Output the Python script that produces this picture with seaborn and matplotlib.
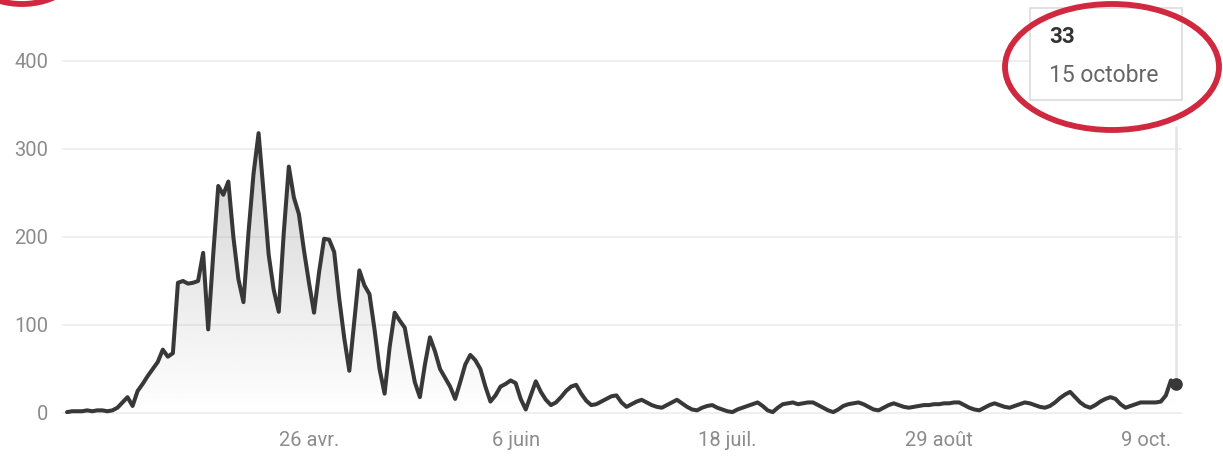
import numpy as np
import pandas as pd
import matplotlib
matplotlib.use("Agg")
import matplotlib.pyplot as plt
import matplotlib.dates as mdates
from matplotlib.patches import Ellipse, Rectangle
import seaborn as sns

# daily values, first day = 9 March
start_date = "2020-03-09"
daily = [
    1, 2, 2, 2, 3, 2, 3, 3, 2, 3,
    6, 12, 18, 8, 25, 33, 42, 50, 58, 72,
    64, 68, 148, 150, 147, 148, 150, 182, 95, 180,
    258, 248, 263, 200, 152, 126, 205, 272, 318, 250,
    180, 140, 115, 205, 280, 245, 226, 185, 148, 114,
    160, 198, 197, 183, 130, 85, 48, 105, 162, 145,
    135, 95, 50, 22, 75, 114, 105, 97, 65, 35,
    18, 55, 86, 70, 50, 40, 30, 16, 35, 55,
    66, 60, 50, 30, 13, 20, 30, 33, 37, 34,
    16, 4, 20, 36, 24, 15, 9, 12, 18, 25,
    30, 32, 22, 14, 9, 10, 13, 16, 19, 20,
    12, 7, 10, 13, 15, 12, 9, 7, 6, 9,
    12, 15, 11, 7, 4, 3, 6, 8, 9, 6,
    4, 2, 1, 4, 6, 8, 10, 12, 8, 3,
    1, 6, 10, 11, 12, 10, 11, 12, 12, 9,
    6, 3, 1, 4, 8, 10, 11, 12, 10, 7,
    4, 3, 6, 9, 11, 9, 7, 6, 7, 8,
    9, 9, 10, 10, 11, 11, 12, 12, 9, 6,
    4, 3, 6, 9, 11, 9, 7, 6, 8, 10,
    12, 11, 9, 7, 6, 8, 12, 17, 21, 24,
    18, 12, 8, 6, 9, 13, 16, 18, 16, 10,
    6, 8, 10, 12, 12, 12, 12, 13, 20, 37,
    33,
]
tick_dates = ["2020-04-26", "2020-06-06", "2020-07-18", "2020-08-29", "2020-10-09"]
tick_labels = ["26 avr.", "6 juin", "18 juil.", "29 août", "9 oct."]
y_ticks = [0, 100, 200, 300, 400]
tip_value = "33"
tip_label = "15 octobre"

df = pd.DataFrame({
    "date": pd.date_range(start_date, periods=len(daily), freq="D"),
    "value": daily,
})

sns.set_theme(style="white")
plt.rcParams["font.family"] = ["Roboto", "DejaVu Sans"]

W, H = 1223, 457
fig = plt.figure(figsize=(W / 100, H / 100), dpi=100)
ax = fig.add_axes([62 / W, (H - 420) / H, (1182 - 62) / W, 410 / H])

line_col = "#383838"
sns.lineplot(data=df, x="date", y="value", ax=ax, color=line_col,
             linewidth=2.9, zorder=4)

# grey gradient under the curve
xnum = mdates.date2num(df["date"])
poly = ax.fill_between(df["date"], df["value"], 0, facecolor="none",
                       edgecolor="none")
grad = np.zeros((256, 1, 4))
grad[:, 0, :3] = 0.6
grad[:, 0, 3] = np.linspace(0.0, 0.45, 256)
im = ax.imshow(grad, extent=[xnum[0], xnum[-1], 0, df["value"].max()],
               origin="lower", aspect="auto", zorder=2)
im.set_clip_path(poly.get_paths()[0], transform=ax.transData)

# hover marker on the last day
last = df.iloc[-1]
ax.plot([last["date"], last["date"]], [last["value"], 325], color="#e4e4e4",
        linewidth=1.8, zorder=3)
ax.scatter([last["date"]], [last["value"]], s=65, color=line_col, zorder=5)

t0 = pd.Timestamp(start_date)
ax.set_xlim(t0 - pd.Timedelta(days=1.0), t0 + pd.Timedelta(days=221.2))
ax.set_ylim((413 - 420) / 0.88, (413 - 10) / 0.88)
ax.set_xticks(pd.to_datetime(tick_dates))
ax.set_xticklabels(tick_labels)
ax.set_yticks(y_ticks)
ax.tick_params(axis="both", length=0, labelsize=14.5, labelcolor="#8c8c8c")
ax.tick_params(axis="x", pad=8)
ax.tick_params(axis="y", pad=10)
ax.set_xlabel("")
ax.set_ylabel("")
ax.grid(axis="y", color="#ececec", linewidth=1.2)
ax.grid(axis="x", visible=False)
sns.despine(ax=ax, left=True, bottom=True)

# overlay in pixel coordinates for the tooltip and the red circles
ov = fig.add_axes([0, 0, 1, 1], zorder=10)
ov.set_xlim(0, W)
ov.set_ylim(H, 0)
ov.axis("off")
ov.add_patch(Rectangle((1030, 8), 152, 92, facecolor="white",
                       edgecolor="#dcdcdc", linewidth=1.2))
ov.text(1049, 37, tip_value, fontsize=16, fontweight="bold", color="#333333",
        va="center", ha="left")
ov.text(1049, 75, tip_label, fontsize=16.5, color="#666666", va="center",
        ha="left")
red = "#d0283e"
ov.add_patch(Ellipse((1112, 67), 214, 126, fill=False, edgecolor=red,
                     linewidth=4.2))
ov.add_patch(Ellipse((22, -38), 118, 84, fill=False, edgecolor=red,
                     linewidth=4.2))

fig.savefig("out.png", dpi=100)
